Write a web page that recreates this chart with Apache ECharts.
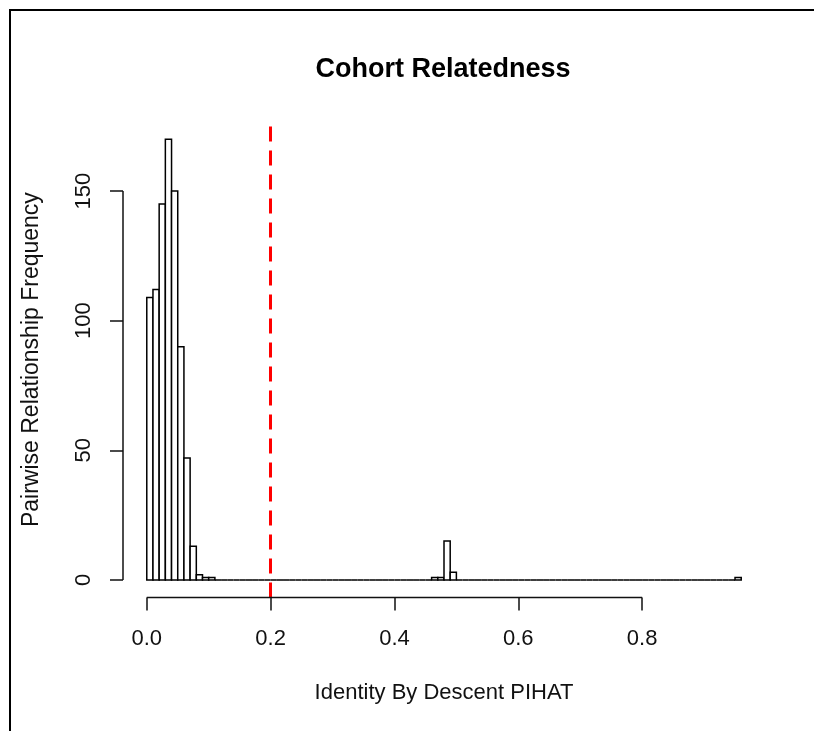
<!DOCTYPE html>
<html>
<head>
<meta charset="utf-8">
<script src="https://cdn.jsdelivr.net/npm/echarts@6/dist/echarts.min.js"></script>
<style>
html,body{margin:0;padding:0;background:#fff;}
#chart{width:814px;height:731px;}
</style>
</head>
<body>
<div id="chart"></div>
<script>
// ---- data ----
const chartTitle = 'Cohort Relatedness';
const xAxisTitle = 'Identity By Descent PIHAT';
const yAxisTitle = 'Pairwise Relationship Frequency';
const binStart = 0.0;
const binWidth = 0.01;
// counts per 0.01-wide PIHAT bin, from 0.00 to 0.96
const counts = [
  109, 112, 145, 170, 150, 90, 47, 13, 2, 1,
  1, 0, 0, 0, 0, 0, 0, 0, 0, 0,
  0, 0, 0, 0, 0, 0, 0, 0, 0, 0,
  0, 0, 0, 0, 0, 0, 0, 0, 0, 0,
  0, 0, 0, 0, 0, 0, 1, 1, 15, 3,
  0, 0, 0, 0, 0, 0, 0, 0, 0, 0,
  0, 0, 0, 0, 0, 0, 0, 0, 0, 0,
  0, 0, 0, 0, 0, 0, 0, 0, 0, 0,
  0, 0, 0, 0, 0, 0, 0, 0, 0, 0,
  0, 0, 0, 0, 0, 1
];
const xTicks = [0, 0.2, 0.4, 0.6, 0.8];
const yTicks = [0, 50, 100, 150];
const threshold = 0.2;

// ---- derived ----
const binData = counts.map((c, i) => [binStart + i * binWidth, binStart + (i + 1) * binWidth, c]);
const xLo = binStart, xHi = binStart + counts.length * binWidth;
const xPad = (xHi - xLo) * 0.04;
const yLo = 0, yHi = Math.max.apply(null, counts);
const yPad = (yHi - yLo) * 0.04;
const xMin = xLo - xPad, xMax = xHi + xPad;
const yMin = yLo - yPad, yMax = yHi + yPad;

const FONT = 'Liberation Sans, Arial, sans-serif';
const chart = echarts.init(document.getElementById('chart'), null, {renderer: 'canvas'});

const option = {
  backgroundColor: '#fff',
  animation: false,
  title: {
    text: chartTitle,
    left: 438, top: 51, textAlign: 'center',
    textStyle: {fontFamily: FONT, fontSize: 27, fontWeight: 'bold', color: '#000'}
  },
  grid: {left: 123, right: 49, top: 121.6, bottom: 133.4, containLabel: false},
  xAxis: {
    type: 'value', min: xMin, max: xMax,
    name: xAxisTitle, nameLocation: 'middle', nameGap: 84,
    nameTextStyle: {fontFamily: FONT, fontSize: 22, color: '#111'},
    axisLine: {show: false, onZero: false},
    splitLine: {show: false},
    axisTick: {show: true, inside: false, length: 13, customValues: xTicks, lineStyle: {color: '#111', width: 1.5}},
    axisLabel: {
      customValues: xTicks, margin: 30,
      fontFamily: FONT, fontSize: 22, color: '#111',
      formatter: v => v.toFixed(1)
    }
  },
  yAxis: {
    type: 'value', min: yMin, max: yMax,
    name: yAxisTitle, nameLocation: 'middle', nameGap: 80, nameRotate: 90,
    nameTextStyle: {fontFamily: FONT, fontSize: 23, color: '#111'},
    axisLine: {show: false, onZero: false},
    splitLine: {show: false},
    axisTick: {show: true, inside: false, length: 13, customValues: yTicks, lineStyle: {color: '#111', width: 1.5}},
    axisLabel: {
      customValues: yTicks, margin: 28, rotate: 90,
      fontFamily: FONT, fontSize: 22, color: '#111'
    }
  },
  series: [{
    type: 'custom',
    data: binData,
    encode: {x: [0, 1], y: 2},
    renderItem: function (params, api) {
      const p0 = api.coord([api.value(0), api.value(2)]);
      const p1 = api.coord([api.value(1), 0]);
      return {
        type: 'rect',
        shape: {x: p0[0], y: p0[1], width: p1[0] - p0[0], height: p1[1] - p0[1]},
        style: {fill: '#fff', stroke: '#000', lineWidth: 1.5}
      };
    },
    markLine: {
      silent: true, symbol: 'none', label: {show: false},
      lineStyle: {color: '#ff0000', width: 3, type: [15, 9]},
      data: [{xAxis: threshold}]
    }
  }]
};
chart.setOption(option);

// axis lines spanning only the tick range (R style)
const a0 = chart.convertToPixel({gridIndex: 0}, [xTicks[0], yMin]);
const a1 = chart.convertToPixel({gridIndex: 0}, [xTicks[xTicks.length - 1], yMin]);
const b0 = chart.convertToPixel({gridIndex: 0}, [xMin, yTicks[0]]);
const b1 = chart.convertToPixel({gridIndex: 0}, [xMin, yTicks[yTicks.length - 1]]);
chart.setOption({
  graphic: [
    {type: 'line', shape: {x1: a0[0], y1: a0[1], x2: a1[0], y2: a1[1]}, style: {stroke: '#111', lineWidth: 1.5}, z: 10},
    {type: 'line', shape: {x1: b0[0], y1: b0[1], x2: b1[0], y2: b1[1]}, style: {stroke: '#111', lineWidth: 1.5}, z: 10},
    // frame of the original figure
    {type: 'line', shape: {x1: 9, y1: 10, x2: 814, y2: 10}, style: {stroke: '#000', lineWidth: 2}, z: 10},
    {type: 'line', shape: {x1: 10, y1: 10, x2: 10, y2: 731}, style: {stroke: '#000', lineWidth: 2}, z: 10}
  ]
});
</script>
</body>
</html>
